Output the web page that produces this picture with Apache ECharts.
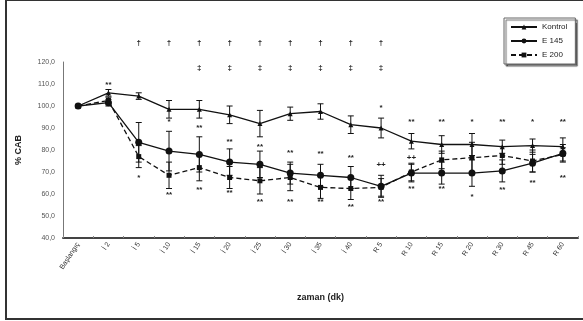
<!DOCTYPE html>
<html>
<head>
<meta charset="utf-8">
<script src="https://cdn.jsdelivr.net/npm/echarts@6/dist/echarts.min.js"></script>
<style>html,body{margin:0;padding:0;background:#fff}#c{width:583px;height:321px}</style>
</head>
<body>
<div id="c"></div>
<script>
const categories = ["Başlangıç","İ 2","İ 5","İ 10","İ 15","İ 20","İ 25","İ 30","İ 35","İ 40","R 5","R 10","R 15","R 20","R 30","R 45","R 60"];
const seriesNames = ["Kontrol","E 145","E 200"];
const kontrol   = [100,106,104.5,98.5,98.5,96,92,96.5,97.5,91.5,90,84,82.5,82.5,81.5,82,81.5];
const kontrolErr= [0,1.5,1.5,4,4,4,6,3,3.5,4,4.5,3.5,4,5,3,3,4];
const e145      = [100,101.5,83.5,79.5,78,74.5,73.5,69.5,68.5,67.5,63.5,69.5,69.5,69.5,70.5,74,78.5];
const e145Err   = [0,1.5,9,9,8,6,6,5,5,5,5,4,5,6,5,4,4];
const e200      = [100,102.5,77,68.5,72,67.5,66,67.5,63,62.5,63,70,75.5,76.5,77.5,75,78];
const e200Err   = [0,1.5,5,6,6,5,6,6,5,5,4,4,4,7,4,5,3];
const yTicks = {min:40, max:120, step:10};
// annotation marks: [category index, value, text]
const notes = [
  [2,128.6,"†"],[3,128.6,"†"],[4,128.6,"†"],[5,128.6,"†"],[6,128.6,"†"],[7,128.6,"†"],[8,128.6,"†"],[9,128.6,"†"],[10,128.6,"†"],
  [4,117.3,"‡"],[5,117.3,"‡"],[6,117.3,"‡"],[7,117.3,"‡"],[8,117.3,"‡"],[9,117.3,"‡"],[10,117.3,"‡"],
  [1,109.5,"**"],[10,99.1,"*"],[11,92.7,"**"],[12,92.7,"**"],[13,92.7,"*"],[14,92.7,"**"],[15,92.7,"*"],[16,92.7,"**"],
  [3,92.7,"*"],[4,90,"**"],[5,83.6,"**"],[6,81.4,"**"],[7,78.6,"**"],[8,78.2,"**"],[9,76.4,"**"],[10,73.2,"++"],[11,76.5,"++"],
  [2,67.3,"*"],[3,59.5,"**"],[4,61.8,"**"],[5,60.5,"**"],[6,56.4,"**"],[7,56.4,"**"],[8,56.4,"**"],[9,54.1,"**"],[10,56.4,"**"],
  [11,62.3,"**"],[12,62.3,"**"],[13,58.6,"*"],[14,61.8,"**"],[15,65,"**"],[16,67.3,"**"]
];

const FONT = "Liberation Sans";
const ink = "#111";

function errSeries(vals, errs){
  return {
    type:'custom', silent:true, z:3,
    data: vals.map((v,i)=>[i, v, errs[i]]),
    renderItem(params, api){
      const x = api.value(0), y = api.value(1), e = api.value(2);
      if (!e) return null;
      const t = api.coord([x, y+e]), b = api.coord([x, y-e]);
      const hw = 3;
      const st = {stroke:ink, lineWidth:1};
      return {type:'group', children:[
        {type:'line', shape:{x1:t[0],y1:t[1],x2:b[0],y2:b[1]}, style:st},
        {type:'line', shape:{x1:t[0]-hw,y1:t[1],x2:t[0]+hw,y2:t[1]}, style:st},
        {type:'line', shape:{x1:b[0]-hw,y1:b[1],x2:b[0]+hw,y2:b[1]}, style:st}
      ]};
    }
  };
}

const chart = echarts.init(document.getElementById('c'), null, {renderer:'canvas'});
chart.setOption({
  animation:false,
  backgroundColor:'#fff',
  textStyle:{fontFamily:FONT},
  graphic:[{type:'rect', shape:{x:6,y:0,width:590,height:319}, style:{fill:null, stroke:'#333', lineWidth:2}, silent:true}],
  grid:{left:63, right:5, top:62, bottom:83, containLabel:false},
  legend:{
    data:seriesNames, orient:'vertical', left:504, top:18,
    itemWidth:26, itemHeight:6, itemGap:6,
    padding:[5,8,5,6],
    borderColor:'#666', borderWidth:1, backgroundColor:'#fff',
    shadowColor:'rgba(0,0,0,0.6)', shadowOffsetX:2, shadowOffsetY:2, shadowBlur:1,
    textStyle:{fontSize:8, color:'#222', fontFamily:FONT}
  },
  xAxis:{
    type:'category', data:categories, boundaryGap:true,
    name:'zaman (dk)', nameLocation:'middle', nameGap:55,
    nameTextStyle:{fontSize:9, fontWeight:'bold', color:'#222'},
    axisLine:{lineStyle:{color:'#444', width:2}},
    axisTick:{show:true, inside:true, length:2, lineStyle:{color:'#888'}},
    axisLabel:{rotate:57, fontSize:7, color:'#333', interval:0, margin:5}
  },
  yAxis:{
    type:'value', min:yTicks.min, max:yTicks.max, interval:yTicks.step,
    name:'% CAB', nameLocation:'middle', nameGap:40, nameRotate:90,
    nameTextStyle:{fontSize:9, fontWeight:'bold', color:'#222'},
    axisLine:{show:true, lineStyle:{color:'#777', width:1}},
    axisTick:{show:false},
    splitLine:{show:false},
    axisLabel:{fontSize:7, color:'#555', margin:8, formatter:v=>v.toFixed(1).replace('.',',')}
  },
  series:[
    {name:seriesNames[0], type:'line', data:kontrol, symbol:'triangle', symbolSize:5,
     itemStyle:{color:ink}, lineStyle:{color:ink, width:1.3}, z:5},
    {name:seriesNames[1], type:'line', data:e145, symbol:'circle', symbolSize:7,
     itemStyle:{color:ink}, lineStyle:{color:ink, width:1.3}, z:5},
    {name:seriesNames[2], type:'line', data:e200, symbol:'rect', symbolSize:5,
     itemStyle:{color:ink}, lineStyle:{color:ink, width:1.3, type:[5,3]}, z:5},
    errSeries(kontrol, kontrolErr),
    errSeries(e145, e145Err),
    errSeries(e200, e200Err),
    {
      type:'custom', silent:true, z:6,
      data: notes.map(n=>[n[0], n[1]]),
      renderItem(params, api){
        const p = api.coord([api.value(0), api.value(1)]);
        const txt = notes[params.dataIndex][2];
        return {type:'text', x:p[0], y:p[1], style:{text:txt, fontSize:8, fontFamily:FONT, fontWeight:'bold', fill:'#222', align:'center', verticalAlign:'middle', textAlign:'center', textVerticalAlign:'middle'}};
      }
    }
  ]
});
</script>
</body>
</html>
